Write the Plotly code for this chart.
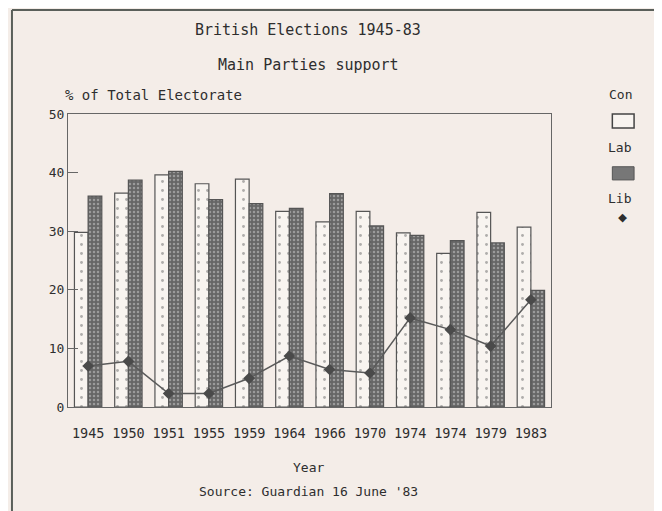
import plotly.graph_objects as go

# election categories (two elections in 1974)
ELECTIONS = ["1945", "1950", "1951", "1955", "1959", "1964", "1966",
             "1970", "1974 Feb", "1974 Oct", "1979", "1983"]
TICK_LABELS = ["1945", "1950", "1951", "1955", "1959", "1964", "1966",
               "1970", "1974", "1974", "1979", "1983"]

# % of total electorate
CON = [29.8, 36.5, 39.6, 38.1, 38.9, 33.4, 31.6, 33.4, 29.7, 26.2, 33.2, 30.7]
LAB = [36.0, 38.7, 40.2, 35.4, 34.7, 33.9, 36.4, 30.9, 29.3, 28.4, 28.0, 19.9]
LIB = [7.0, 7.8, 2.3, 2.3, 4.9, 8.7, 6.4, 5.8, 15.2, 13.2, 10.4, 18.3]

FONT = "DejaVu Sans Mono"
INK = "#2e2e2e"
BG = "#f4ede8"

fig = go.Figure()
fig.add_trace(go.Bar(
    x=ELECTIONS, y=CON, name="Con",
    marker=dict(color="#f8f4f0", line=dict(color="#555", width=1.2),
                pattern=dict(shape=".", fgcolor="#666", size=9, solidity=0.08)),
))
fig.add_trace(go.Bar(
    x=ELECTIONS, y=LAB, name="Lab",
    marker=dict(color="#6e6e6e", line=dict(color="#555", width=1.2),
                pattern=dict(shape=".", fgcolor="#d0d0d0", bgcolor="#666666",
                             size=4, solidity=0.3)),
))
fig.add_trace(go.Scatter(
    x=ELECTIONS, y=LIB, name="Lib", mode="lines+markers",
    line=dict(color="#5a5a5a", width=1.5),
    marker=dict(symbol="diamond", size=9, color="#4a4a4a"),
))

# page has an 8px body margin, so the figure is a bit smaller than the window
fig.update_layout(
    width=654, height=503,
    margin=dict(l=60, r=111, t=106, b=104),
    paper_bgcolor=BG, plot_bgcolor=BG,
    font=dict(family=FONT, size=13, color=INK),
    barmode="group", bargap=0.32, bargroupgap=0,
    showlegend=False,
)
fig.update_xaxes(
    tickvals=ELECTIONS, ticktext=TICK_LABELS, range=[-0.5, 11.5],
    showline=True, mirror=True, linecolor="#666", linewidth=1,
    showgrid=False, ticks="", ticklabelstandoff=14,
    tickfont=dict(size=13.5),
)
fig.update_yaxes(
    range=[0, 50], dtick=10,
    showline=True, mirror=True, linecolor="#666", linewidth=1,
    showgrid=False, zeroline=False,
    ticks="inside", ticklen=10, tickcolor="#666",
)

texts = [
    ("British Elections 1945-83", 0.497, 1.287, "center", 15),
    ("Main Parties support", 0.497, 1.167, "center", 15),
    ("% of Total Electorate", -0.01, 1.065, "left", 14),
    ("Year", 0.497, -0.208, "center", 13),
    ("Source: Guardian 16 June '83", 0.497, -0.29, "center", 13),
    ("Con", 1.143, 1.065, "center", 13),
    ("Lab", 1.143, 0.884, "center", 13),
    ("Lib", 1.143, 0.713, "center", 13),
    ("◆", 1.148, 0.648, "center", 15),
]
for t, x, y, anchor, size in texts:
    fig.add_annotation(text=t, x=x, y=y, xref="paper", yref="paper",
                       xanchor=anchor, yanchor="middle", showarrow=False,
                       font=dict(size=size, color=INK))

# legend swatches
fig.add_shape(type="rect", xref="paper", yref="paper",
              x0=1.127, x1=1.172, y0=0.952, y1=1.0,
              fillcolor="#f8f4f0", line=dict(color="#444", width=1.5))
fig.add_shape(type="rect", xref="paper", yref="paper",
              x0=1.127, x1=1.172, y0=0.775, y1=0.82,
              fillcolor="#777", line=dict(color="#555", width=1))

# outer frame of the screen
fig.add_shape(type="line", xref="paper", yref="paper",
              x0=-0.116, x1=1.25, y0=1.355, y1=1.355,
              line=dict(color="#5a5f5a", width=2))
fig.add_shape(type="line", xref="paper", yref="paper",
              x0=-0.116, x1=-0.116, y0=1.355, y1=-0.38,
              line=dict(color="#5a5f5a", width=2))

fig.write_html("out.html")
